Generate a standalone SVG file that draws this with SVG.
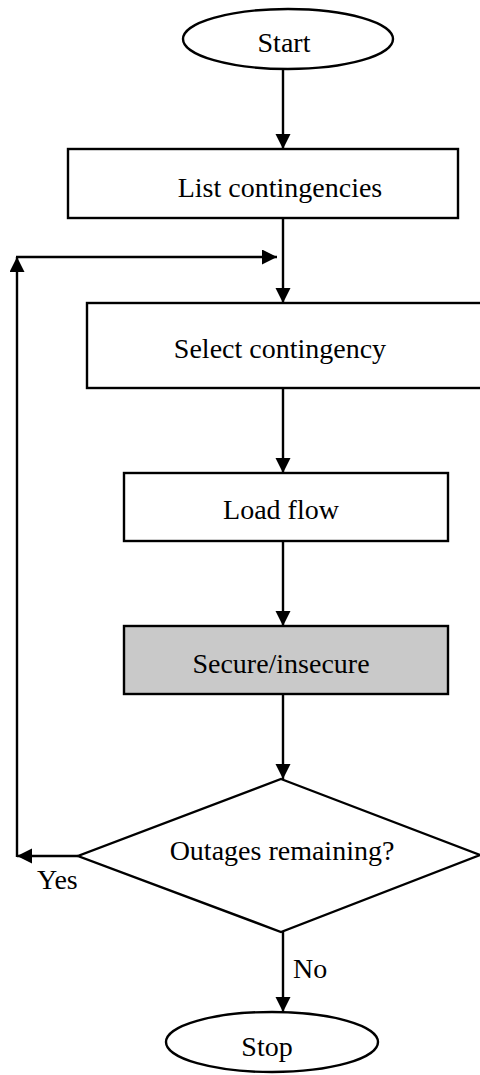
<svg xmlns="http://www.w3.org/2000/svg" width="480" height="1075" viewBox="0 0 480 1075">
<style>
.shape{fill:#fff;stroke:#000;stroke-width:2.4}
.gray{fill:#c9c9c9}
.lbl{font-family:"Liberation Serif","Times New Roman",serif;font-size:28px;fill:#000}
.c{text-anchor:middle}
.edge{fill:none;stroke:#000;stroke-width:2.4}
</style>
<defs>
<marker id="ah" markerUnits="userSpaceOnUse" markerWidth="17" markerHeight="16" refX="15" refY="7.5" orient="auto">
<path d="M0,0 L15,7.5 L0,15 z" fill="#000"/>
</marker>
</defs>
<rect width="480" height="1075" fill="#fff"/>
<g id="start">
<ellipse class="shape" cx="288" cy="39" rx="105" ry="30"/>
<text class="lbl c" x="284" y="52">Start</text>
</g>
<g id="list">
<rect class="shape" x="68" y="149" width="390" height="69"/>
<text class="lbl c" x="280" y="197">List contingencies</text>
</g>
<g id="select">
<rect class="shape" x="87" y="303" width="400" height="85"/>
<text class="lbl c" x="280" y="358">Select contingency</text>
</g>
<g id="loadflow">
<rect class="shape" x="124" y="473" width="324" height="68"/>
<text class="lbl c" x="281" y="519">Load flow</text>
</g>
<g id="secure">
<rect class="shape gray" x="124" y="626" width="324" height="68"/>
<text class="lbl c" x="281" y="673">Secure/insecure</text>
</g>
<g id="decision">
<polygon class="shape" points="281,779 480,855 281,932 78,856"/>
<text class="lbl c" x="282" y="860">Outages remaining?</text>
</g>
<g id="stop">
<ellipse class="shape" cx="272" cy="1042" rx="106" ry="30"/>
<text class="lbl c" x="267" y="1056">Stop</text>
</g>
<g id="connectors">
<line class="edge" x1="283" y1="69" x2="283" y2="149" marker-end="url(#ah)"/>
<line class="edge" x1="283" y1="218" x2="283" y2="303" marker-end="url(#ah)"/>
<line class="edge" x1="283" y1="388" x2="283" y2="473" marker-end="url(#ah)"/>
<line class="edge" x1="283" y1="541" x2="283" y2="626" marker-end="url(#ah)"/>
<line class="edge" x1="283" y1="694" x2="283" y2="779" marker-end="url(#ah)"/>
<line class="edge" x1="78" y1="856" x2="17" y2="856" marker-end="url(#ah)"/>
<line class="edge" x1="17" y1="857" x2="17" y2="257" marker-end="url(#ah)"/>
<line class="edge" x1="16" y1="257" x2="277" y2="257" marker-end="url(#ah)"/>
<line class="edge" x1="283" y1="932" x2="283" y2="1012" marker-end="url(#ah)"/>
<text class="lbl" x="37" y="889">Yes</text>
<text class="lbl" x="293" y="978">No</text>
</g>
</svg>
